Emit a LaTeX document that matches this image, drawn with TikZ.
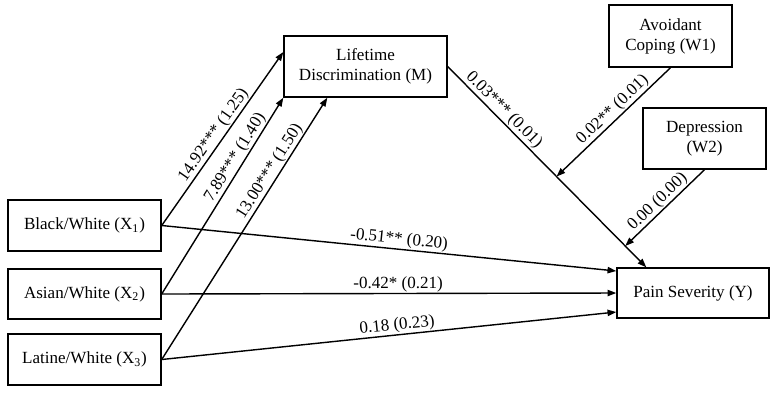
\documentclass[tikz,border=0pt]{standalone}
\usepackage{fontspec}
\setmainfont{Liberation Serif}
\usetikzlibrary{arrows.meta,calc}

\tikzset{
  box/.style={draw, line width=0.8pt, align=center, inner sep=0pt,
    font=\fontsize{9.7pt}{11.4pt}\selectfont},
  arr/.style={-{Triangle[length=5pt,width=3.6pt]}, line width=0.8pt},
  coef/.style={sloped, above, inner sep=0.5pt,
    font=\fontsize{9.7pt}{11.4pt}\selectfont}
}

\begin{document}
\begin{tikzpicture}
    \useasboundingbox (0,0) rectangle (15.54,-7.84);

    % Mediator and moderators
    \node[box, minimum width=3.26cm, minimum height=1.22cm] (M) at (7.31,-1.33) {Lifetime\\Discrimination (M)};
    \node[box, minimum width=2.46cm, minimum height=1.24cm] (W1) at (13.41,-0.72) {Avoidant\\Coping (W1)};
    \node[box, minimum width=2.46cm, minimum height=1.22cm] (W2) at (14.09,-2.77) {Depression\\(W2)};

    % Outcome
    \node[box, minimum width=3.04cm, minimum height=1.00cm] (Y) at (13.86,-5.86) {Pain Severity (Y)};

    % Predictors
    \node[box, minimum width=3.06cm, minimum height=1.02cm] (X1) at (1.69,-4.51) {Black/White (X\textsubscript{1})};
    \node[box, minimum width=3.06cm, minimum height=1.00cm] (X2) at (1.69,-5.88) {Asian/White (X\textsubscript{2})};
    \node[box, minimum width=3.06cm, minimum height=1.02cm] (X3) at (1.69,-7.19) {Latine/White (X\textsubscript{3})};

    % a paths
    \draw[arr] (X1.east) -- node[coef, pos=0.49] {14.92*** (1.25)} ($(M.west)+(0,0.29)$);
    \draw[arr] (X2.east) -- node[coef, pos=0.67] {7.89*** (1.40)} (M.south west);
    \draw[arr] (X3.east) -- node[coef, pos=0.70] {13.00*** (1.50)} ($(M.south west)+(0.88,0)$);

    % b path with moderation points
    \draw[arr] (M.east) -- node[coef, pos=0.25] {0.03*** (0.01)}
        coordinate[pos=0.548] (m1) coordinate[pos=0.894] (m2)
        ($(Y.north west)+(0.6,0)$);
    \draw[arr] (W1.south) -- node[coef, pos=0.45] {0.02** (0.01)} (m1);
    \draw[arr] (W2.south) -- node[coef, pos=0.51] {0.00 (0.00)} (m2);

    % direct paths
    \draw[arr] (X1.east) -- node[coef, pos=0.52] {-0.51** (0.20)} ($(Y.west)+(0,0.44)$);
    \draw[arr] (X2.east) -- node[coef, pos=0.52] {-0.42* (0.21)} (Y.west);
    \draw[arr] (X3.east) -- node[coef, pos=0.52] {0.18 (0.23)} ($(Y.west)+(0,-0.38)$);
\end{tikzpicture}
\end{document}
